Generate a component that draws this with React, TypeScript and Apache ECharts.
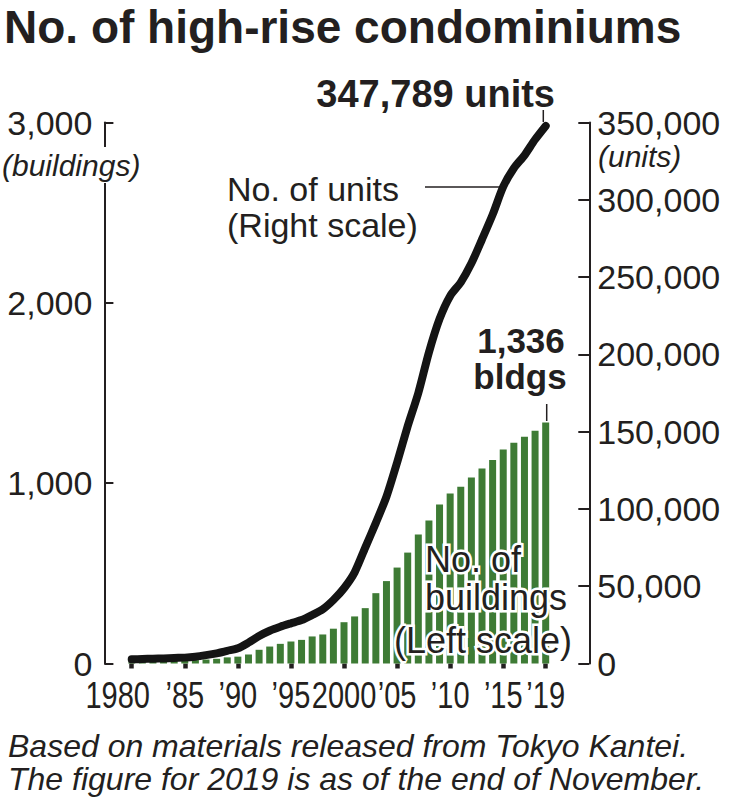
import React, { useEffect, useRef } from 'react';
import * as echarts from 'echarts';

const years = [
  '1980', '1981', '1982', '1983', '1984', '1985', '1986', '1987', '1988', '1989',
  '1990', '1991', '1992', '1993', '1994', '1995', '1996', '1997', '1998', '1999',
  '2000', '2001', '2002', '2003', '2004', '2005', '2006', '2007', '2008', '2009',
  '2010', '2011', '2012', '2013', '2014', '2015', '2016', '2017', '2018', '2019',
];

// Number of buildings (left scale)
const buildings = [
  6, 8, 10, 12, 14, 16, 19, 22, 26, 34,
  38, 50, 76, 94, 109, 122, 131, 150, 161, 193,
  229, 261, 307, 390, 457, 532, 615, 715, 793, 882,
  943, 980, 1032, 1082, 1128, 1187, 1224, 1257, 1291, 1336,
];

// Number of units (right scale)
const units = [
  2700, 2900, 3100, 3300, 3600, 3800, 4400, 5400, 6600, 8200,
  9800, 13500, 17800, 21200, 23800, 26000, 28100, 31400, 35100, 41100,
  48700, 59000, 75000, 91000, 108000, 130000, 153500, 175000, 201300, 222900,
  237800, 246600, 258900, 274400, 290400, 308500, 320400, 328800, 339000, 347789,
];

const tickYears = ['1980', '1985', '1990', '1995', '2000', '2005', '2010', '2015', '2019'];
const tickLabels = ['1980', '\u201985', '\u201990', '\u201995', '2000', '\u201905', '\u201910', '\u201915', '\u201919'];

const leftMax = 3000;
const leftInterval = 1000;
const rightMax = 350000;
const rightInterval = 50000;

const INK = '#231f20';
const GREEN = '#3e7b35';
const SANS = '"Liberation Sans", Arial, Helvetica, sans-serif';

export default function App() {
  const ref = useRef<HTMLDivElement>(null);

  useEffect(() => {
    if (!ref.current) return;
    const chart = echarts.init(ref.current, undefined, { renderer: 'svg' });

    const txt = (text: string, x: number, y: number, size: number, opts: any = {}) => ({
      type: 'text',
      z: 100,
      style: {
        text,
        x,
        y,
        fill: INK,
        font: `${opts.style || 'normal'} ${opts.weight || 'normal'} ${size}px ${SANS}`,
        align: opts.align || 'left',
        textAlign: opts.align || 'left',
        verticalAlign: 'middle',
        textVerticalAlign: 'middle',
        ...(opts.extra || {}),
      },
    });

    const ln = (x1: number, y1: number, x2: number, y2: number) => ({
      type: 'line',
      z: 100,
      shape: { x1, y1, x2, y2 },
      style: { stroke: INK, lineWidth: 1.5 },
    });

    const halo = { stroke: '#ffffff', lineWidth: 5 };
    const isTick = (_i: number, v: string) => tickYears.includes(v);

    const annotations = [
      txt('No. of high-rise condominiums', 4, 27, 46, { weight: 'bold' }),
      txt('(buildings)', 2, 165, 30, {
        style: 'italic',
        extra: { backgroundColor: '#ffffff', padding: [3, 0, 3, 0] },
      }),
      txt('(units)', 598, 156, 30, { style: 'italic' }),
      txt('347,789 units', 555, 94, 38, { weight: 'bold', align: 'right' }),
      ln(543.3, 110, 543.3, 122),
      txt('No. of units', 227, 189, 34),
      txt('(Right scale)', 227, 225, 34),
      ln(425, 187, 499, 187),
      txt('1,336', 521, 340, 35, { weight: 'bold', align: 'center' }),
      txt('bldgs', 520, 376, 35, { weight: 'bold', align: 'center' }),
      ln(546.7, 404, 546.7, 421),
      txt('No. of', 425, 559, 36, { extra: halo }),
      txt('buildings', 425, 597, 36, { extra: halo }),
      txt('(Left scale)', 572, 640, 36, { align: 'right', extra: halo }),
      txt('Based on materials released from Tokyo Kantei.', 8, 746, 32, { style: 'italic' }),
      txt('The figure for 2019 is as of the end of November.', 8, 779, 32, { style: 'italic' }),
    ];

    chart.setOption({
      animation: false,
      backgroundColor: '#ffffff',
      grid: { left: 126.4, right: 186, top: 122.5, bottom: 136.5, containLabel: false },
      xAxis: {
        type: 'category',
        data: years,
        offset: 3,
        axisLine: { show: true, lineStyle: { color: 'rgba(0,0,0,0)', width: 0 } },
        axisTick: {
          show: true,
          alignWithLabel: true,
          interval: isTick,
          length: 5,
          lineStyle: { width: 4.5, color: INK },
        },
        axisLabel: { show: false },
        splitLine: { show: false },
      },
      yAxis: [
        {
          type: 'value',
          position: 'left',
          offset: 22,
          min: 0,
          max: leftMax,
          interval: leftInterval,
          axisLine: { show: true, lineStyle: { color: INK, width: 2 } },
          axisTick: { show: true, inside: true, length: 9, lineStyle: { color: INK, width: 2 } },
          axisLabel: {
            fontSize: 34,
            fontFamily: SANS,
            color: INK,
            margin: 12,
            padding: [0, 0, 10, 0],
            formatter: (v: number) => v.toLocaleString('en-US'),
          },
          splitLine: { show: false },
        },
        {
          type: 'value',
          position: 'right',
          offset: 38.3,
          min: 0,
          max: rightMax,
          interval: rightInterval,
          axisLine: { show: true, lineStyle: { color: INK, width: 2 } },
          axisTick: { show: true, inside: true, length: 11, lineStyle: { color: INK, width: 2 } },
          axisLabel: {
            fontSize: 34,
            fontFamily: SANS,
            color: INK,
            margin: 8,
            padding: [0, 0, 10, 0],
            formatter: (v: number) => v.toLocaleString('en-US'),
          },
          splitLine: { show: false },
        },
      ],
      series: [
        {
          type: 'bar',
          name: 'No. of buildings',
          data: buildings,
          yAxisIndex: 0,
          barWidth: 7,
          itemStyle: { color: GREEN },
          z: 2,
        },
        {
          type: 'line',
          name: 'No. of units',
          data: units,
          yAxisIndex: 1,
          showSymbol: false,
          smooth: 0.25,
          lineStyle: { color: '#141414', width: 8, cap: 'round', join: 'round' },
          z: 3,
        },
      ],
      graphic: annotations,
    });

    // Year labels: placed with the category axis' own scale, drawn taller (condensed look)
    const yearLabels = tickYears.map((yr, k) => {
      const px = chart.convertToPixel({ xAxisIndex: 0 }, yr) as number;
      const shift = yr === '1980' ? -14 : 0;
      return {
        type: 'text',
        z: 100,
        x: px + shift,
        y: 695,
        scaleX: 1,
        scaleY: 1.28,
        style: {
          text: tickLabels[k],
          x: 0,
          y: 0,
          fill: INK,
          font: `normal normal 29px ${SANS}`,
          align: 'center',
          textAlign: 'center',
          verticalAlign: 'middle',
          textVerticalAlign: 'middle',
        },
      };
    });

    chart.setOption({ graphic: [...annotations, ...yearLabels] });

    return () => chart.dispose();
  }, []);

  return (
    <div
      ref={ref}
      style={{ position: 'absolute', left: 0, top: 0, width: 737, height: 800 }}
    />
  );
}
